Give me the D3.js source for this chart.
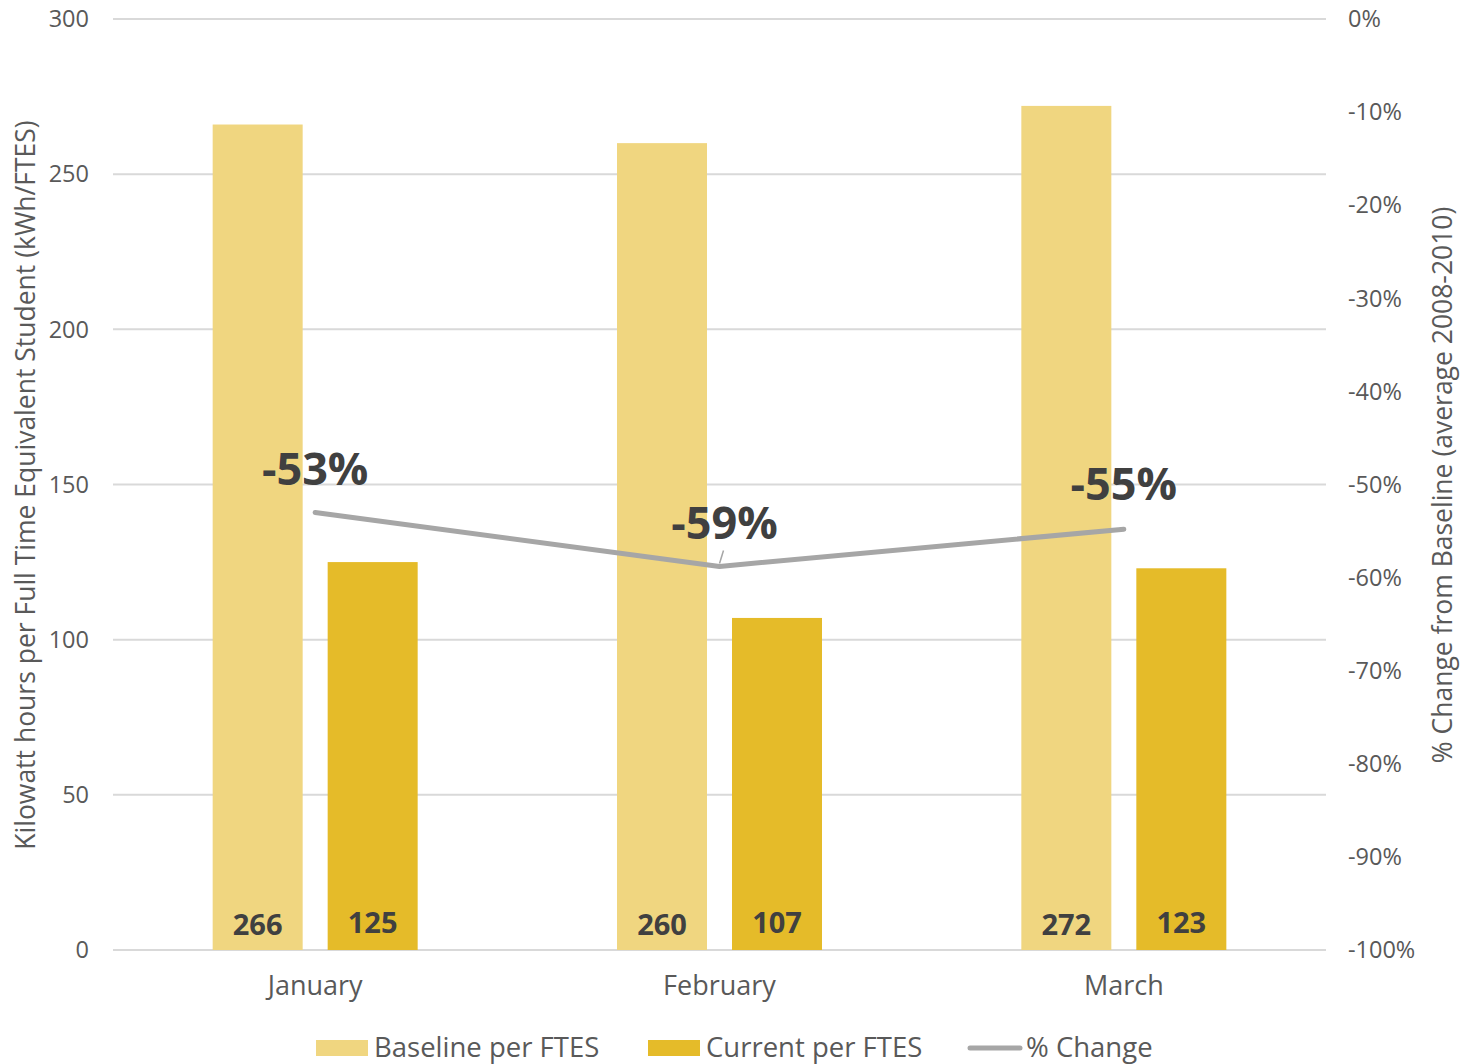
<!DOCTYPE html>
<html>
<head>
<meta charset="utf-8">
<script src="https://cdn.jsdelivr.net/npm/d3@7"></script>
<style>
  body { margin: 0; background: #fff; }
  svg { display: block; font-family: 'Open Sans', Lato, sans-serif; }
</style>
</head>
<body>
<script>
var months = ['January', 'February', 'March'];
var baseline = [266, 260, 272];
var current = [125, 107, 123];
var pctChange = [-53.0, -58.8, -54.8];
var pctLabels = ['-53%', '-59%', '-55%'];
var leftTicks = [0, 50, 100, 150, 200, 250, 300];
var rightTicks = [0, -10, -20, -30, -40, -50, -60, -70, -80, -90, -100];

var width = 1460, height = 1064;
var plot = { left: 113, right: 1326, top: 19, bottom: 950 };

var svg = d3.select('body').append('svg').attr('width', width).attr('height', height);

var x = d3.scaleBand().domain(months).range([plot.left, plot.right]);
var y = d3.scaleLinear().domain([0, 300]).range([plot.bottom, plot.top]);
var y2 = d3.scaleLinear().domain([-100, 0]).range([plot.bottom, plot.top]);

var barW = 90, gap = 25;

// gridlines
svg.append('g').selectAll('line').data(leftTicks).enter().append('line')
    .attr('x1', plot.left).attr('x2', plot.right)
    .attr('y1', function (d) { return y(d); }).attr('y2', function (d) { return y(d); })
    .attr('stroke', '#d9d9d9').attr('stroke-width', 2);

// left axis labels
svg.append('g').selectAll('text').data(leftTicks).enter().append('text')
    .attr('x', 89).attr('y', function (d) { return y(d); })
    .attr('dy', '0.35em').attr('text-anchor', 'end')
    .attr('font-size', 23.5).attr('fill', '#595959')
    .text(function (d) { return d; });

// right axis labels
svg.append('g').selectAll('text').data(rightTicks).enter().append('text')
    .attr('x', 1348).attr('y', function (d) { return y2(d); })
    .attr('dy', '0.35em').attr('text-anchor', 'start')
    .attr('font-size', 23.5).attr('fill', '#595959')
    .text(function (d) { return d + '%'; });

// axis titles
svg.append('text')
    .attr('transform', 'translate(35,485) rotate(-90)')
    .attr('text-anchor', 'middle').attr('font-size', 26.5).attr('fill', '#595959')
    .text('Kilowatt hours per Full Time Equivalent Student (kWh/FTES)');
svg.append('text')
    .attr('transform', 'translate(1452,485) rotate(-90)')
    .attr('text-anchor', 'middle').attr('font-size', 26.5).attr('fill', '#595959')
    .text('% Change from Baseline (average 2008-2010)');

// bars
var groups = svg.append('g').selectAll('g').data(months).enter().append('g');

function center(i) { return x(months[i]) + x.bandwidth() / 2; }

groups.append('rect')
    .attr('x', function (d, i) { return center(i) - gap / 2 - barW; })
    .attr('y', function (d, i) { return y(baseline[i]); })
    .attr('width', barW)
    .attr('height', function (d, i) { return y(0) - y(baseline[i]); })
    .attr('fill', '#f0d680');

groups.append('rect')
    .attr('x', function (d, i) { return center(i) + gap / 2; })
    .attr('y', function (d, i) { return y(current[i]); })
    .attr('width', barW)
    .attr('height', function (d, i) { return y(0) - y(current[i]); })
    .attr('fill', '#e5bb29');

// bar value labels
groups.append('text')
    .attr('x', function (d, i) { return center(i) - gap / 2 - barW / 2; })
    .attr('y', y(0) - 15)
    .attr('text-anchor', 'middle').attr('font-size', 29).attr('font-weight', 'bold')
    .attr('fill', '#404040')
    .text(function (d, i) { return baseline[i]; });

groups.append('text')
    .attr('x', function (d, i) { return center(i) + gap / 2 + barW / 2; })
    .attr('y', y(0) - 17)
    .attr('text-anchor', 'middle').attr('font-size', 29).attr('font-weight', 'bold')
    .attr('fill', '#404040')
    .text(function (d, i) { return current[i]; });

// category labels
groups.append('text')
    .attr('x', function (d, i) { return center(i); })
    .attr('y', 995)
    .attr('text-anchor', 'middle').attr('font-size', 27).attr('fill', '#595959')
    .text(function (d) { return d; });

// % change line
var line = d3.line()
    .x(function (d, i) { return center(i); })
    .y(function (d) { return y2(d); });

svg.append('path').datum(pctChange)
    .attr('d', line)
    .attr('fill', 'none').attr('stroke', '#a6a6a6').attr('stroke-width', 5)
    .attr('stroke-linecap', 'round').attr('stroke-linejoin', 'round');

// leader line for February label
svg.append('line')
    .attr('x1', center(1)).attr('y1', y2(pctChange[1]) - 3)
    .attr('x2', center(1) + 4).attr('y2', y2(pctChange[1]) - 16)
    .attr('stroke', '#a6a6a6').attr('stroke-width', 1.5);

var labelOffsets = [[0, -27], [5, -27], [0, -29]];
svg.append('g').selectAll('text').data(pctChange).enter().append('text')
    .attr('x', function (d, i) { return center(i) + labelOffsets[i][0]; })
    .attr('y', function (d, i) { return y2(d) + labelOffsets[i][1]; })
    .attr('text-anchor', 'middle').attr('font-size', 45).attr('font-weight', 'bold')
    .attr('fill', '#404040')
    .text(function (d, i) { return pctLabels[i]; });

// legend
var legend = svg.append('g').attr('font-size', 27.5).attr('fill', '#595959');
legend.append('rect').attr('x', 316).attr('y', 1040).attr('width', 52).attr('height', 16).attr('fill', '#f0d680');
legend.append('text').attr('x', 374).attr('y', 1057).text('Baseline per FTES');
legend.append('rect').attr('x', 648).attr('y', 1040).attr('width', 52).attr('height', 16).attr('fill', '#e5bb29');
legend.append('text').attr('x', 706).attr('y', 1057).text('Current per FTES');
legend.append('line').attr('x1', 970).attr('x2', 1020).attr('y1', 1048).attr('y2', 1048)
    .attr('stroke', '#a6a6a6').attr('stroke-width', 5).attr('stroke-linecap', 'round');
legend.append('text').attr('x', 1026).attr('y', 1057).text('% Change');
</script>
</body>
</html>
